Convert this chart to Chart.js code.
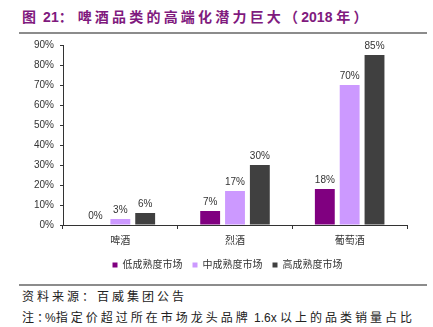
<!DOCTYPE html>
<html>
<head>
<meta charset="utf-8">
<script src="https://cdn.jsdelivr.net/npm/chart.js@4"></script>
<style>
  body { margin: 0; width: 433px; height: 327px; background: #fff; position: relative; overflow: hidden;
         font-family: "Liberation Sans", "Noto Sans CJK SC", sans-serif; }
  #title { position: absolute; left: 22px; top: 10px; font-size: 14px; line-height: 14px; font-weight: bold; color: #7f1a7e; white-space: nowrap; }
  #title .c { letter-spacing: 3.2px; }
  .rule { position: absolute; left: 19px; width: 408px; height: 2px; background: #8c8c8c; }
  .foot { position: absolute; left: 22px; font-size: 12px; line-height: 14px; color: #222; white-space: nowrap; }
  .foot .c { letter-spacing: 3px; }
  #box { position: absolute; left: 0; top: 33px; width: 433px; height: 251px; }
</style>
</head>
<body>
<div id="title"><span class="c">图</span> 21<span class="c" style="letter-spacing:5px">：</span><span class="c">啤酒品类的高端化潜力巨大（</span>2018 <span class="c">年</span>）</div>
<div class="rule" style="top:32px"></div>
<div id="box"><canvas id="chart"></canvas></div>
<div class="rule" style="top:284px"></div>
<div class="foot" style="top:290px"><span class="c">资料来源：百威集团公告</span></div>
<div class="foot" style="top:311px"><span class="c">注</span><span style="letter-spacing:-4px">：</span>%<span class="c">指定价超过所在市场龙头品牌</span> 1.6x <span class="c">以上的品类销量占比</span></div>
<script>
// 数据
const categories = ['啤酒', '烈酒', '葡萄酒'];
const seriesNames = ['低成熟度市场', '中成熟度市场', '高成熟度市场'];
const lowMarket = [0, 7, 18];
const midMarket = [3, 17, 70];
const highMarket = [6, 30, 85];
const yTicks = [0, 10, 20, 30, 40, 50, 60, 70, 80, 90];
const colors = ['#800080', '#cc99ff', '#404040'];

const FONT = '"Liberation Sans", "Noto Sans CJK SC", sans-serif';

// 柱顶数值标签
const valueLabels = {
    id: 'valueLabels',
    afterDatasetsDraw(chart) {
        const ctx = chart.ctx;
        ctx.save();
        ctx.font = '10px ' + FONT;
        ctx.fillStyle = '#333';
        ctx.textAlign = 'center';
        ctx.textBaseline = 'bottom';
        chart.data.datasets.forEach((ds, i) => {
            chart.getDatasetMeta(i).data.forEach((bar, j) => {
                ctx.fillText(ds.data[j] + '%', bar.x, bar.y - 4);
            });
        });
        ctx.restore();
    }
};

// 图例位置微调：居中于图区并略上移
const legendShift = {
    id: 'legendShift',
    afterLayout(chart) {
        chart.legend.left += 48;
        chart.legend.top -= 3;
    }
};

const datasets = [lowMarket, midMarket, highMarket].map((d, i) => ({
    label: seriesNames[i],
    data: d,
    backgroundColor: colors[i],
    categoryPercentage: 0.65,
    barPercentage: 0.8
}));

new Chart(document.getElementById('chart'), {
    type: 'bar',
    data: { labels: categories, datasets: datasets },
    options: {
        responsive: true,
        maintainAspectRatio: false,
        animation: false,
        layout: { padding: { top: 4, right: 26, left: 0, bottom: 1 } },
        plugins: {
            legend: {
                position: 'bottom',
                labels: { boxWidth: 5, boxHeight: 5, font: { size: 10, family: FONT }, color: '#333', padding: 10 }
            },
            tooltip: { enabled: false }
        },
        scales: {
            x: {
                grid: { display: true, drawOnChartArea: false, color: '#333', tickLength: 4, offset: true },
                border: { color: '#333' },
                ticks: { font: { size: 10, family: FONT }, color: '#333', padding: 6 }
            },
            y: {
                min: 0, max: 90,
                afterFit(s) { s.width = 63; },
                afterBuildTicks(s) { s.ticks = yTicks.map(v => ({ value: v })); },
                grid: { display: true, drawOnChartArea: false, color: '#333', tickLength: 3 },
                border: { color: '#333' },
                ticks: { font: { size: 10, family: FONT }, color: '#333', padding: 6,
                         callback: v => v + '%' }
            }
        }
    },
    plugins: [valueLabels, legendShift]
});
</script>
</body>
</html>
